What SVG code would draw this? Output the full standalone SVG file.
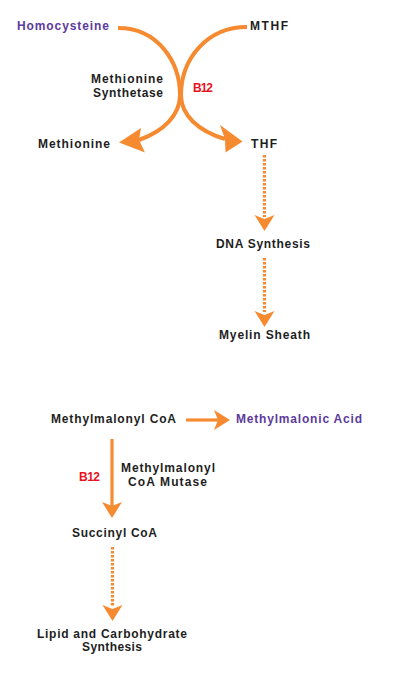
<svg xmlns="http://www.w3.org/2000/svg" xmlns:xlink="http://www.w3.org/1999/xlink" width="401" height="673" viewBox="0 0 401 673">
<style>
  text { font-family: "Liberation Sans", Arial, sans-serif; font-weight: bold; font-size: 12px; fill: #1e1e1e; }
  .purple { fill: #5b3b9c; }
  .red { fill: #e8121c; }
  .arc { fill: none; stroke: #f58a30; stroke-width: 4; }
  .solid { fill: none; stroke: #f58a30; stroke-width: 3.2; }
  .dotted { fill: none; stroke: #f58a30; stroke-width: 3.2; stroke-dasharray: 2.5 1.5; }
  .head { fill: #f58a30; }
</style>
<defs>
  <path id="ah" d="M0,0 L-10,-16 L0,-12 L10,-16 Z"/>
</defs>
<rect width="401" height="673" fill="#ffffff"/>

<g id="connectors">
  <path class="arc" d="M118,28 C158,28 180,62 180,95 C180,115 164,131 139,140"/>
  <path class="head" d="M119,142.5 L141,128 L139,140 L145,152.5 Z"/>
  <path class="arc" d="M247,27 C206,27 181,60 181,95 C181,115 198,131 225,139"/>
  <path class="head" d="M242.5,141.5 L220,125 L225,139 L225.5,152.5 Z"/>

  <line class="dotted" x1="264.5" y1="155" x2="264.5" y2="217"/>
  <use href="#ah" class="head" transform="translate(264.5,231)"/>
  <line class="dotted" x1="264.5" y1="258" x2="264.5" y2="312"/>
  <use href="#ah" class="head" transform="translate(264.5,327)"/>

  <line class="solid" x1="186" y1="420" x2="218" y2="420"/>
  <use href="#ah" class="head" transform="translate(230,420) rotate(-90)"/>
  <line class="solid" x1="112" y1="439" x2="112" y2="507"/>
  <use href="#ah" class="head" transform="translate(112,518)"/>
  <line class="dotted" x1="112.5" y1="547" x2="112.5" y2="607"/>
  <use href="#ah" class="head" transform="translate(112.5,621)"/>
</g>

<g id="homocysteine"><text class="purple" x="17" y="29.5" textLength="92" lengthAdjust="spacing">Homocysteine</text></g>
<g id="mthf"><text x="250" y="29.5" textLength="38" lengthAdjust="spacing">MTHF</text></g>
<g id="methionine-synthetase">
  <text x="91" y="83" textLength="72" lengthAdjust="spacing">Methionine</text>
  <text x="93" y="97" textLength="70" lengthAdjust="spacing">Synthetase</text>
</g>
<g id="b12-top"><text class="red" x="193" y="92" textLength="20" lengthAdjust="spacing">B12</text></g>
<g id="methionine"><text x="38" y="148" textLength="72" lengthAdjust="spacing">Methionine</text></g>
<g id="thf"><text x="251" y="148" textLength="26" lengthAdjust="spacing">THF</text></g>
<g id="dna-synthesis"><text x="216" y="248" textLength="94" lengthAdjust="spacing">DNA Synthesis</text></g>
<g id="myelin-sheath"><text x="219" y="339" textLength="91" lengthAdjust="spacing">Myelin Sheath</text></g>
<g id="methylmalonyl-coa"><text x="51" y="423" textLength="125" lengthAdjust="spacing">Methylmalonyl CoA</text></g>
<g id="methylmalonic-acid"><text class="purple" x="236" y="423" textLength="126" lengthAdjust="spacing">Methylmalonic Acid</text></g>
<g id="b12-bottom"><text class="red" x="79" y="481" textLength="21" lengthAdjust="spacing">B12</text></g>
<g id="methylmalonyl-coa-mutase">
  <text x="121" y="472" textLength="94" lengthAdjust="spacing">Methylmalonyl</text>
  <text x="128" y="486" textLength="79" lengthAdjust="spacing">CoA Mutase</text>
</g>
<g id="succinyl-coa"><text x="72" y="537" textLength="85" lengthAdjust="spacing">Succinyl CoA</text></g>
<g id="lipid-carbohydrate-synthesis">
  <text x="37" y="638" textLength="150" lengthAdjust="spacing">Lipid and Carbohydrate</text>
  <text x="82" y="651" textLength="60" lengthAdjust="spacing">Synthesis</text>
</g>
</svg>
